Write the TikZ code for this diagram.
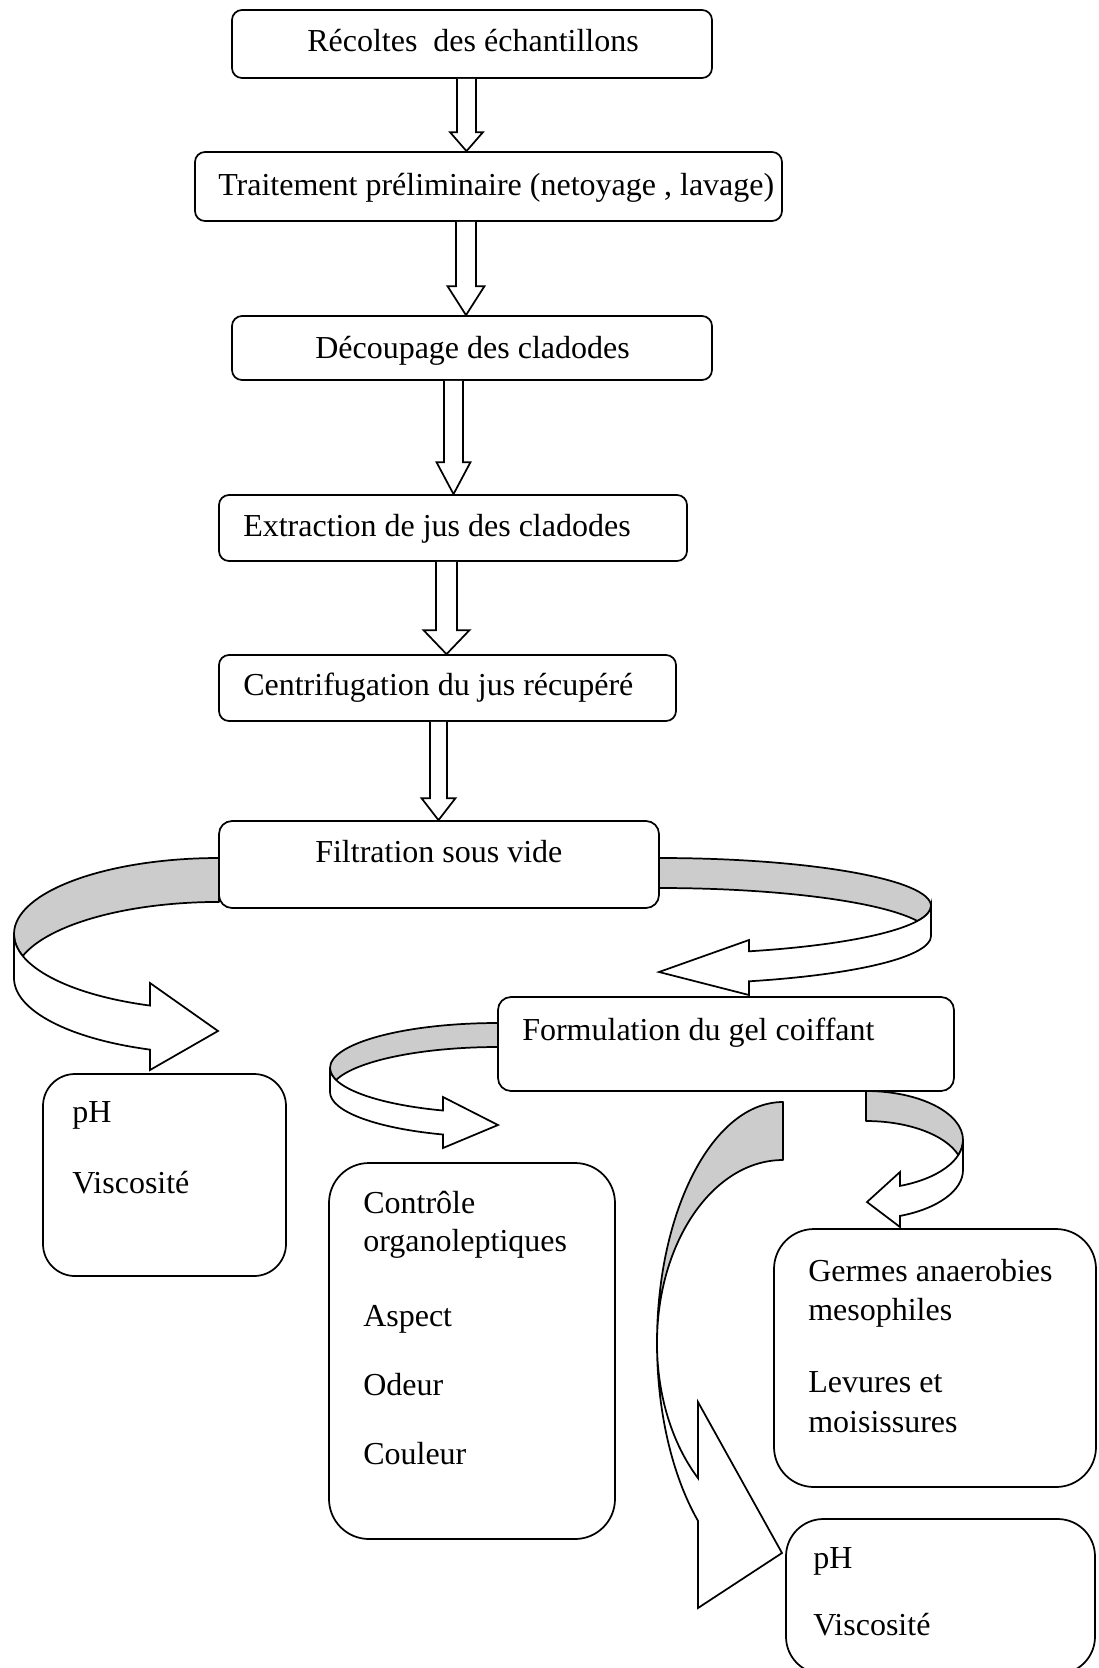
\documentclass[tikz,border=0pt]{standalone}
\usepackage{fontspec}
\setmainfont{Liberation Serif}
\usetikzlibrary{calc,fit}
\definecolor{bandgray}{RGB}{204,204,204}
\newcommand\blockdown[6]{%
 \pgfmathsetmacro\bxa{#3-#4}\pgfmathsetmacro\bxb{#3+#4}%
 \pgfmathsetmacro\bxc{#3-#5}\pgfmathsetmacro\bxd{#3+#5}%
 \draw[blk] (\bxa,0 |- #1.south) -- ($(\bxa,0 |- #2.north)+(0,-#6)$) -- ($(\bxc,0 |- #2.north)+(0,-#6)$) -- (#3,0 |- #2.north) -- ($(\bxd,0 |- #2.north)+(0,-#6)$) -- ($(\bxb,0 |- #2.north)+(0,-#6)$) -- (\bxb,0 |- #1.south);}
\begin{document}
\begin{tikzpicture}[x=0.75pt,y=-0.75pt,
  box/.style={draw, fill=white, line width=1.3pt, inner sep=0pt, rounded corners=#1},
  box/.default=7.5pt,
  txt/.style={inner sep=0pt, anchor=base west, font=\fontsize{24}{28}\selectfont},
  blk/.style={draw, fill=white, line width=1.3pt, line join=miter},
  band/.style={draw, fill=bandgray, line width=1.3pt, line join=round},
  front/.style={draw, fill=white, line width=1.3pt, line join=miter}]
\useasboundingbox (0,0) rectangle (1099,1668);
\clip (0,0) rectangle (1099,1668);
% boxes
\node[box, fit={(232,10) (712,78)}] (b1) {};
\node[box, fit={(195,152) (782,221)}] (b2) {};
\node[box, fit={(232,316) (712,380)}] (b3) {};
\node[box, fit={(219,495) (687,561)}] (b4) {};
\node[box, fit={(219,655) (676,721)}] (b5) {};
\node[box=9.75pt, fit={(219,821) (659,908)}] (b6) {};
\node[box=9.75pt, fit={(498,997) (954,1091)}] (b7) {};
\node[box=24pt, fit={(43,1074) (286,1276)}] (b8) {};
\node[box=30pt, fit={(329,1163) (615,1539)}] (b9) {};
\node[box=30pt, fit={(774,1229) (1096,1487)}] (b10) {};
\node[box=28pt, fit={(786,1519) (1095,1674)}] (b11) {};
% texts
\node[txt] (t1) at (307,51) {Récoltes\ \ des échantillons};
\node[txt] (t2) at (218,195) {Traitement préliminaire (netoyage , lavage)};
\node[txt] (t3) at (315,358) {Découpage des cladodes};
\node[txt] (t4) at (243,536) {Extraction de jus des cladodes};
\node[txt] (t5) at (243,695) {Centrifugation du jus récupéré};
\node[txt] (t6) at (315,862) {Filtration sous vide};
\node[txt] (t7) at (522,1040) {Formulation du gel coiffant};
\node[txt] (t8a) at (72,1122) {pH};
\node[txt] (t8b) at (72,1193) {Viscosité};
\node[txt] (t9a) at (363,1213) {Contrôle};
\node[txt] (t9b) at (363,1251) {organoleptiques};
\node[txt] (t9c) at (363,1326) {Aspect};
\node[txt] (t9d) at (363,1395) {Odeur};
\node[txt] (t9e) at (363,1464) {Couleur};
\node[txt] (t10a) at (808,1281) {Germes anaerobies};
\node[txt] (t10b) at (808,1320) {mesophiles};
\node[txt] (t10c) at (808,1392) {Levures et};
\node[txt] (t10d) at (808,1432) {moisissures};
\node[txt] (t11a) at (813,1568) {pH};
\node[txt] (t11b) at (813,1635) {Viscosité};
% straight block arrows
\blockdown{b1}{b2}{466.5}{9.5}{16.5}{19}
\blockdown{b2}{b3}{466}{10}{18.5}{29}
\blockdown{b3}{b4}{453.5}{9.5}{17}{32}
\blockdown{b4}{b5}{446.5}{10.5}{23}{24}
\blockdown{b5}{b6}{438.5}{8.5}{17}{22}
% curved arrow: Filtration -> left pH box
\path[band] (219,858) arc[start angle=270, end angle=180, x radius=205, y radius=76]
  arc[start angle=180, end angle=163.2, x radius=205, y radius=76]
  arc[start angle=196.8, end angle=270, x radius=205, y radius=76] -- cycle;
\path[front] (14,934) arc[start angle=180, end angle=109.67, x radius=205, y radius=76]
  -- (150,983) -- (218,1031) -- (150,1070) -- (150,1049.6)
  arc[start angle=109.67, end angle=180, x radius=205, y radius=76] -- cycle;
% curved arrow: Filtration -> Formulation
\path[band] (659,858) arc[start angle=-90, end angle=0, x radius=272, y radius=48]
  arc[start angle=0, end angle=18.21, x radius=272, y radius=48]
  arc[start angle=-18.21, end angle=-90, x radius=272, y radius=48] -- cycle;
\path[front] (931,906) arc[start angle=0, end angle=70.68, x radius=272, y radius=48]
  -- (749,940) -- (659,972) -- (749,995) -- (749,981.3)
  arc[start angle=70.68, end angle=0, x radius=272, y radius=48] -- cycle;
% curved arrow: Formulation -> Controle box
\path[band] (498,1023) arc[start angle=270, end angle=180, x radius=168, y radius=45]
  arc[start angle=180, end angle=164.53, x radius=168, y radius=45]
  arc[start angle=195.47, end angle=270, x radius=168, y radius=45] -- cycle;
\path[front] (330,1068) arc[start angle=180, end angle=109.11, x radius=168, y radius=45]
  -- (443,1097) -- (498,1125) -- (443,1148) -- (443,1134.5)
  arc[start angle=109.11, end angle=180, x radius=168, y radius=45] -- cycle;
% curved arrow: Formulation -> Germes box
\path[band] (866,1091) arc[start angle=-90, end angle=0, x radius=97, y radius=49]
  arc[start angle=0, end angle=17.83, x radius=97, y radius=49]
  arc[start angle=-17.83, end angle=-90, x radius=97, y radius=49] -- cycle;
\path[front] (963,1140) arc[start angle=0, end angle=69.48, x radius=97, y radius=49]
  -- (900,1172) -- (867,1202) -- (900,1227) -- (900,1215.9)
  arc[start angle=69.48, end angle=0, x radius=97, y radius=49] -- cycle;
% big curved arrow: Formulation -> bottom pH box
\path[band] (783,1102) arc[start angle=270, end angle=180, x radius=126, y radius=241]
  arc[start angle=180, end angle=270, x radius=126, y radius=183] -- cycle;
\path[front] (657,1343) arc[start angle=180, end angle=132.42, x radius=126, y radius=241]
  -- (698,1608) -- (782,1553) -- (698,1402) -- (698,1478.1)
  arc[start angle=132.42, end angle=180, x radius=126, y radius=183] -- cycle;
\end{tikzpicture}
\end{document}
